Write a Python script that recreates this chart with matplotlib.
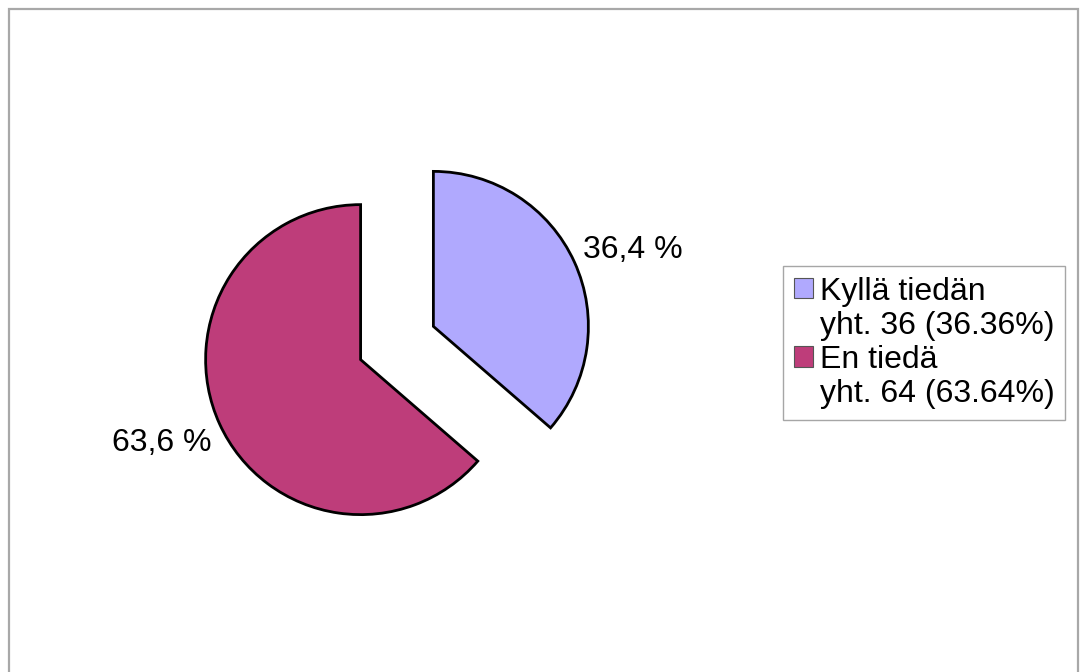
import numpy as np
import matplotlib.pyplot as plt
from matplotlib.patches import Rectangle

plt.rcParams["font.family"] = ["Liberation Sans", "DejaVu Sans"]

# ===================== data =====================
categories = ["Kyllä tiedän", "En tiedä"]
counts = [36, 64]
shares = [36.36, 63.64]
colors = ["#b0a9fe", "#be3d7a"]

slice_labels = [f"{s:.1f} %".replace(".", ",") for s in shares]
detail_lines = [f"yht. {c} ({s:.2f}%)" for c, s in zip(counts, shares)]

# ===================== figure =====================
fig = plt.figure(figsize=(10.8, 6.72), dpi=100)
ax = fig.add_axes([0, 0, 1, 1])

# outer gray frame (runs off the bottom of the page)
fig.patches.append(Rectangle((9 / 1080, -0.05), 1069 / 1080, 1.05 - 9 / 672,
                             transform=fig.transFigure, fill=False,
                             edgecolor="#a8a8a8", linewidth=1.6))

# axes are in pixel-like units, so radius / explode are given in the same units
wedges, texts = ax.pie(
    shares, labels=slice_labels, colors=colors,
    startangle=90, counterclock=False,
    explode=[40, 40], radius=155, center=(397, 329),
    labeldistance=1.06,
    wedgeprops=dict(edgecolor="black", linewidth=2.0),
    textprops=dict(fontsize=23, color="black"),
    frame=True,
)
ax.set_xlim(0, 1080)
ax.set_ylim(0, 672)
ax.set_aspect("auto")
ax.axis("off")

# label alignment relative to the slice direction, not the axes origin
for w, t in zip(wedges, texts):
    mid = np.deg2rad((w.theta1 + w.theta2) / 2)
    t.set_horizontalalignment("left" if np.cos(mid) > 0 else "right")
    t.set_verticalalignment("baseline" if np.sin(mid) > 0 else "top")

# legend: colour box on the name line, totals on a second row without a box
blank = Rectangle((0, 0), 1, 1, fill=False, edgecolor="none")
handles, labels = [], []
for w, name, line in zip(wedges, categories, detail_lines):
    handles += [w, blank]
    labels += [name, line]

leg = fig.legend(
    handles, labels, loc="upper left",
    bbox_to_anchor=(783 / 1080, 1 - 266 / 672),
    fontsize=23, frameon=True, fancybox=False,
    edgecolor="#909090", handlelength=0.6, handleheight=0.6,
    handletextpad=0.22, borderpad=0.33, labelspacing=0.13,
    borderaxespad=0,
)
leg.get_frame().set_linewidth(1.0)
for h in leg.legend_handles[::2]:
    h.set_linewidth(0.8)
    h.set_edgecolor("#555555")

fig.savefig("out.png", dpi=100)
